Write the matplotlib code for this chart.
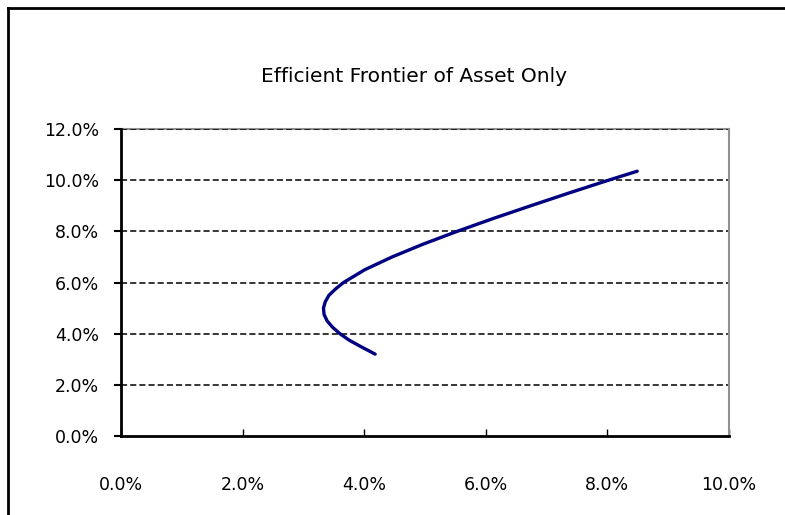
import matplotlib
matplotlib.use("Agg")
import matplotlib.pyplot as plt
from matplotlib.lines import Line2D
from matplotlib.ticker import FuncFormatter

plt.rcParams['font.family'] = ['DejaVu Sans']

title = "Efficient Frontier of Asset Only"
# Expected return (%) and risk / std dev (%)
ret = [3.2, 3.5, 3.75, 4.0, 4.25, 4.5, 4.75, 5.0, 5.25, 5.5, 5.75, 6.0, 6.5, 7.0,
       7.5, 8.0, 8.5, 9.0, 9.5, 10.0, 10.35]
risk = [4.18, 3.94, 3.75, 3.60, 3.48, 3.39, 3.34, 3.33, 3.36, 3.42, 3.53, 3.66, 4.01,
        4.46, 4.97, 5.53, 6.12, 6.74, 7.37, 8.02, 8.49]
xticks = [0, 2, 4, 6, 8, 10]
yticks = [0, 2, 4, 6, 8, 10, 12]

fig = plt.figure(figsize=(7.85, 5.15), dpi=100)
ax = fig.add_axes([121/785, 1-436/515, (729-121)/785, (436-129)/515])

ax.set_xlim(0, 10)
ax.set_ylim(0, 12)
for y in yticks[1:]:
    ax.axhline(y, color='black', lw=1.1, ls=(0, (4, 2)), zorder=1)

ax.plot(risk, ret, color='#000080', lw=2.4, solid_capstyle='round', zorder=3)

ax.set_xticks(xticks)
ax.set_yticks(yticks)
fmt = FuncFormatter(lambda v, p: f"{v:.1f}%")
ax.xaxis.set_major_formatter(fmt)
ax.yaxis.set_major_formatter(fmt)
ax.tick_params(axis='x', direction='in', length=5, width=1, pad=29, labelsize=12.5)
ax.tick_params(axis='y', direction='out', length=5, width=1.5, pad=11, labelsize=12.5)

for s in ['left', 'bottom']:
    ax.spines[s].set_color('black')
    ax.spines[s].set_linewidth(2)
for s in ['top', 'right']:
    ax.spines[s].set_color('#909090')
    ax.spines[s].set_linewidth(1.5)
ax.spines['top'].set_zorder(0.5)

fig.text(414/785, 1-77/515, title, ha='center', va='center', fontsize=14.5)

# outer chart border (left and top visible)
fig.add_artist(Line2D([8/785, 8/785], [0, 1-8/515], transform=fig.transFigure, color='black', lw=2))
fig.add_artist(Line2D([8/785, 1], [1-8/515, 1-8/515], transform=fig.transFigure, color='black', lw=2))

fig.savefig("out.png", dpi=100)
